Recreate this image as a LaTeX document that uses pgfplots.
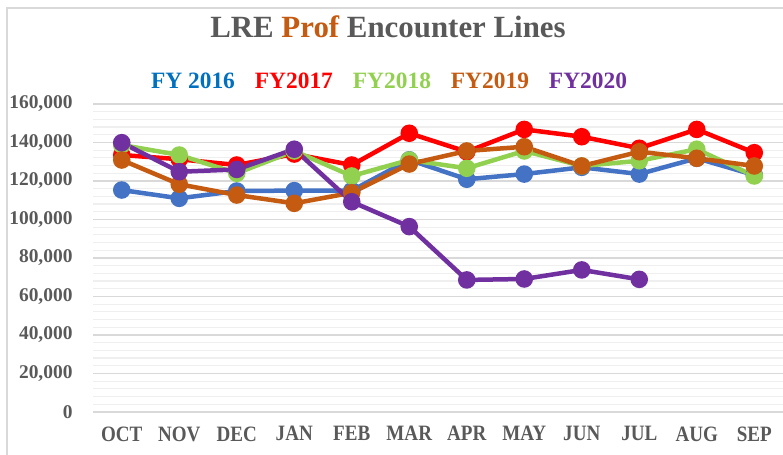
\documentclass[border=0pt]{standalone}
\usepackage{fontspec}
\setmainfont{Liberation Serif}
\newfontfamily\xlabfont[FakeStretch=0.87]{Liberation Serif}
\usepackage{pgfplots}
\pgfplotsset{compat=1.18}
\definecolor{c16}{HTML}{4472C4}
\definecolor{c17}{HTML}{FF0000}
\definecolor{c18}{HTML}{92D050}
\definecolor{c19}{HTML}{C55A11}
\definecolor{c20}{HTML}{7030A0}
\definecolor{l16}{HTML}{0070C0}
\definecolor{tgray}{HTML}{595959}
\definecolor{gmaj}{HTML}{D9D9D9}
\definecolor{gmin}{HTML}{EFEFEF}
\begin{document}
\begin{tikzpicture}[x=1bp,y=1bp]
\useasboundingbox (0,0) rectangle (783,455);
\draw[color=gmaj, line width=1.2bp] (7,-5) rectangle (790,447);
\node[font=\fontsize{31}{31}\selectfont\bfseries, text=tgray, anchor=base] at (388,417) {LRE \textcolor{c19}{Prof} Encounter Lines};
\begin{axis}[
  at={(93bp,43bp)}, anchor=south west,
  scale only axis, width=690bp, height=308bp,
  xmin=-0.5, xmax=11.5, ymin=0, ymax=160000,
  xtick={0,...,11},
  xticklabels={OCT,NOV,DEC,JAN,FEB,MAR,APR,MAY,JUN,JUL,AUG,SEP},
  ytick={0,20000,...,160000},
  minor y tick num=4,
  ymajorgrids, yminorgrids,
  major grid style={color=gmaj, line width=1.4bp},
  minor grid style={color=gmin, line width=1.2bp},
  axis line style={draw=none},
  major tick length=0pt, minor tick length=0pt,
  scaled y ticks=false,
  /pgf/number format/.cd, fixed, 1000 sep={,}, assume math mode=true,
  /pgfplots/.cd,
  yticklabel style={font=\fontsize{19.5}{19.5}\selectfont\bfseries, text=tgray, xshift=-17bp},
  xticklabel style={font=\xlabfont\fontsize{22}{22}\selectfont\bfseries, text=tgray, yshift=-11bp},
  clip=false,
  legend image code/.code={},
  legend style={at={(0.429,1.073)}, anchor=center, draw=none, fill=none,
    legend columns=5, font=\fontsize{23.5}{23.5}\selectfont\bfseries,
    /tikz/every even column/.append style={column sep=16bp}},
  every axis plot/.append style={line width=4.5bp, mark=*, mark size=6.5bp},
]
\addplot[c16, mark options={fill=c16}] coordinates {(0,115300) (1,111000) (2,114800) (3,115000) (4,115000) (5,131000) (6,120900) (7,123600) (8,127100) (9,123600) (10,131800) (11,123100)};
\addlegendentry{\textcolor{l16}{FY 2016}}
\addplot[c17, mark options={fill=c17}] coordinates {(0,133500) (1,131300) (2,128300) (3,134000) (4,128300) (5,144800) (6,135200) (7,146800) (8,143000) (9,137000) (10,146800) (11,134700)};
\addlegendentry{\textcolor{c17}{FY2017}}
\addplot[c18, mark options={fill=c18}] coordinates {(0,138700) (1,133500) (2,124000) (3,135600) (4,122600) (5,130900) (6,126600) (7,135600) (8,127800) (9,130500) (10,136500) (11,122600)};
\addlegendentry{\textcolor{c18}{FY2018}}
\addplot[c19, mark options={fill=c19}] coordinates {(0,130900) (1,118300) (2,112700) (3,108400) (4,113900) (5,128800) (6,135600) (7,137800) (8,127800) (9,135200) (10,131800) (11,127800)};
\addlegendentry{\textcolor{c19}{FY2019}}
\addplot[c20, mark options={fill=c20}] coordinates {(0,139900) (1,124800) (2,126000) (3,136500) (4,109200) (5,96300) (6,68600) (7,69100) (8,73800) (9,68900)};
\addlegendentry{\textcolor{c20}{FY2020}}
\end{axis}
\end{tikzpicture}
\end{document}
